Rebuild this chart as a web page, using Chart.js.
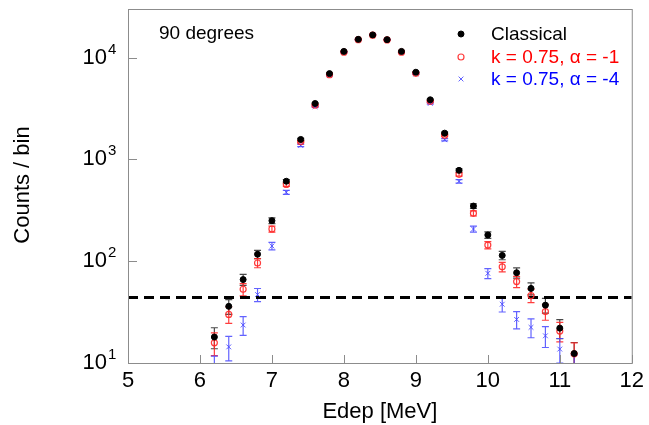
<!DOCTYPE html>
<html>
<head>
<meta charset="utf-8">
<script src="https://cdn.jsdelivr.net/npm/chart.js@4.4.1/dist/chart.umd.min.js"></script>
<style>
  html, body { margin: 0; padding: 0; background: #fff; }
  #wrap { width: 649px; height: 425px; }
</style>
</head>
<body>
<div id="wrap"><canvas id="chart"></canvas></div>
<script>
'use strict';

// ── Data ──────────────────────────────────────────────────────
const EDEP = [6.2, 6.4, 6.6, 6.8, 7.0, 7.2, 7.4, 7.6, 7.8, 8.0, 8.2, 8.4, 8.6,
              8.8, 9.0, 9.2, 9.4, 9.6, 9.8, 10.0, 10.2, 10.4, 10.6, 10.8, 11.0, 11.2];

const CLASSICAL     = [18, 36, 66, 117, 250, 610, 1570, 3540, 6960, 11500, 15100, 16700, 15000,
                       11500, 7180, 3850, 1810, 780, 348, 181, 114, 77, 54, 37, 22, 12.4];
const CLASSICAL_ERR = [4.2, 6, 8.1, 10.8, 15.8, 24.7, 39.6, 59.5, 83.4, 107, 123, 129, 122,
                       107, 84.7, 62, 42.5, 27.9, 18.7, 13.5, 10.7, 8.8, 7.3, 6.1, 4.7, 3.5];

const K_A1     = [15.8, 30, 53, 96, 207, 568, 1490, 3400, 6800, 11300, 15000, 16600, 14900,
                  11300, 7000, 3720, 1730, 713, 295, 144, 88, 63, 46, 32, 20.6, 12.3];
const K_A1_ERR = [4, 5.5, 7.3, 9.8, 14.4, 23.8, 38.6, 58.3, 82.5, 106, 122, 129, 122,
                  106, 83.7, 61, 41.6, 26.7, 17.2, 12, 9.4, 7.9, 6.8, 5.7, 4.5, 3.5];

const K_A4     = [8.5, 14.4, 23.6, 47, 141, 475, 1370, 3300, 6700, 11300, 15000, 16800, 15000,
                  11200, 6900, 3550, 1560, 608, 207, 76, 37.8, 26.8, 22.4, 18.5, 13.7, 9];
const K_A4_ERR = [3.2, 3.9, 4.9, 6.9, 11.9, 21.8, 37, 57.4, 81.9, 106, 122, 130, 122,
                  106, 83, 59.6, 39.5, 24.7, 14.4, 8.7, 6.1, 5.2, 4.7, 4.3, 3.7, 3];

const THRESHOLD = 44;
const X_RANGE = [5, 12];
const Y_RANGE = [10, 30000];
const Y_TICKS = [10, 100, 1000, 10000];

const LABELS = ['Classical', 'k = 0.75, \u03b1 = -1', 'k = 0.75, \u03b1 = -4'];

// ── Style ─────────────────────────────────────────────────────
const FONT = 'Arial, "Liberation Sans", sans-serif';
const FRAME = '#8c8c8c';
const RED = 'rgba(255,40,40,0.9)';
const BLUE = 'rgba(70,70,255,0.85)';

const toPts = (ys) => EDEP.map((x, i) => ({ x, y: ys[i] }));

// ── Plugin: error bars, frame, ticks, texts ───────────────────
const decor = {
  id: 'decor',
  beforeDatasetsDraw(chart) {
    const { ctx, chartArea: a } = chart;
    const ys = chart.scales.y, xs = chart.scales.x;
    ctx.save();
    ctx.beginPath();
    ctx.rect(a.left, a.top, a.right - a.left, a.bottom - a.top);
    ctx.clip();
    chart.data.datasets.forEach(ds => {
      if (!ds.errors) return;
      ctx.strokeStyle = ds.errColor;
      ctx.lineWidth = 1.2;
      ds.data.forEach((p, i) => {
        const e = ds.errors[i];
        const px = xs.getPixelForValue(p.x);
        const lo = ys.getPixelForValue(Math.max(p.y - e, 1));
        const hi = ys.getPixelForValue(p.y + e);
        ctx.beginPath();
        ctx.moveTo(px, lo); ctx.lineTo(px, hi);
        ctx.moveTo(px - 3.5, lo); ctx.lineTo(px + 3.5, lo);
        ctx.moveTo(px - 3.5, hi); ctx.lineTo(px + 3.5, hi);
        ctx.stroke();
      });
    });
    ctx.restore();
  },
  afterDraw(chart) {
    const { ctx, chartArea: a } = chart;
    const ys = chart.scales.y, xs = chart.scales.x;
    ctx.save();

    // frame + inward ticks
    ctx.strokeStyle = FRAME;
    ctx.lineWidth = 1;
    ctx.strokeRect(a.left + 0.5, a.top + 0.5, a.right - a.left, a.bottom - a.top);
    ctx.beginPath();
    xs.ticks.forEach(t => {
      const px = Math.round(xs.getPixelForValue(t.value)) + 0.5;
      ctx.moveTo(px, a.bottom); ctx.lineTo(px, a.bottom - 8);
    });
    Y_TICKS.forEach(v => {
      const py = Math.round(ys.getPixelForValue(v)) + 0.5;
      ctx.moveTo(a.left, py); ctx.lineTo(a.left + 9, py);
    });
    ctx.stroke();

    // y tick labels with exponents
    ctx.fillStyle = '#000';
    Y_TICKS.forEach(v => {
      const py = ys.getPixelForValue(v);
      const exp = String(Math.round(Math.log10(v)));
      ctx.textBaseline = 'alphabetic';
      ctx.textAlign = 'right';
      ctx.font = `22px ${FONT}`;
      ctx.fillText('10', a.left - 21, py + 6);
      ctx.textAlign = 'left';
      ctx.font = `15px ${FONT}`;
      ctx.fillText(exp, a.left - 20, py - 4);
    });

    // axis titles
    ctx.font = `22px ${FONT}`;
    ctx.textAlign = 'center';
    ctx.textBaseline = 'alphabetic';
    ctx.fillText('Edep [MeV]', (a.left + a.right) / 2, 418);
    ctx.save();
    ctx.translate(29, 185);
    ctx.rotate(-Math.PI / 2);
    ctx.fillText('Counts / bin', 0, 0);
    ctx.restore();

    // note
    ctx.textAlign = 'left';
    ctx.textBaseline = 'middle';
    ctx.font = `19px ${FONT}`;
    ctx.fillText('90 degrees', 159, 34);

    // legend
    const rows = [34, 57, 79];
    const txtCol = ['#000', '#ff0000', '#0000ff'];
    [0, 1, 2].forEach(i => {
      const ds = chart.data.datasets[i];
      ctx.fillStyle = ds.backgroundColor;
      ctx.strokeStyle = ds.borderColor;
      ctx.lineWidth = ds.borderWidth;
      Chart.helpers.drawPoint(ctx, {
        pointStyle: ds.pointStyle, radius: ds.pointRadius, rotation: 0,
        borderWidth: ds.borderWidth
      }, 461, rows[i]);
      ctx.font = `19px ${FONT}`;
      ctx.fillStyle = txtCol[i];
      ctx.fillText(LABELS[i], 491, rows[i] + 1);
    });
    ctx.restore();
  }
};

// ── Chart ─────────────────────────────────────────────────────
new Chart(document.getElementById('chart'), {
  type: 'scatter',
  data: {
    datasets: [
      {
        label: LABELS[0], data: toPts(CLASSICAL), errors: CLASSICAL_ERR, errColor: 'rgba(40,40,40,0.85)',
        pointStyle: 'circle', pointRadius: 3, backgroundColor: '#000', borderColor: '#000',
        borderWidth: 1, order: 1
      },
      {
        label: LABELS[1], data: toPts(K_A1), errors: K_A1_ERR, errColor: RED,
        pointStyle: 'circle', pointRadius: 3, backgroundColor: 'rgba(0,0,0,0)', borderColor: RED,
        borderWidth: 1.2, order: 2
      },
      {
        label: LABELS[2], data: toPts(K_A4), errors: K_A4_ERR, errColor: BLUE,
        pointStyle: 'crossRot', pointRadius: 3.4, backgroundColor: BLUE, borderColor: BLUE,
        borderWidth: 1, order: 3
      },
      {
        label: 'threshold', data: [{ x: X_RANGE[0], y: THRESHOLD }, { x: X_RANGE[1], y: THRESHOLD }],
        showLine: true, pointRadius: 0, borderColor: '#000', borderWidth: 3,
        borderDash: [10, 6], order: 4
      }
    ]
  },
  options: {
    responsive: true,
    maintainAspectRatio: false,
    animation: false,
    layout: { padding: { top: 9, right: 16, left: 0, bottom: 0 } },
    plugins: { legend: { display: false }, tooltip: { enabled: false } },
    scales: {
      x: {
        type: 'linear', min: X_RANGE[0], max: X_RANGE[1],
        grid: { display: false, drawTicks: false }, border: { display: false },
        ticks: { stepSize: 1, color: '#000', font: { family: FONT, size: 22 }, padding: 5, maxRotation: 0 },
        afterFit: (s) => { s.height = 62; }
      },
      y: {
        type: 'logarithmic', min: Y_RANGE[0], max: Y_RANGE[1],
        grid: { display: false }, border: { display: false },
        ticks: { display: false },
        afterBuildTicks: (s) => { s.ticks = Y_TICKS.map(v => ({ value: v })); },
        afterFit: (s) => { s.width = 128; }
      }
    }
  },
  plugins: [decor]
});
</script>
</body>
</html>
